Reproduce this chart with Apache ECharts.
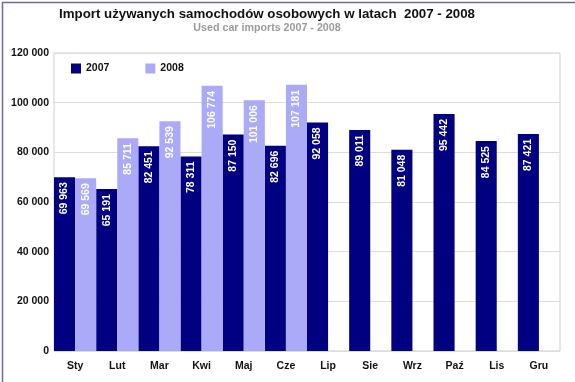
<!DOCTYPE html>
<html><head><meta charset="utf-8">
<script src="https://cdn.jsdelivr.net/npm/echarts@6/dist/echarts.min.js"></script>
<style>
html,body{margin:0;padding:0;background:#fff;}
#c{width:575px;height:382px;box-sizing:border-box;}
</style></head>
<body><div id="c"></div>
<script>
const categories = ['Sty','Lut','Mar','Kwi','Maj','Cze','Lip','Sie','Wrz','Paź','Lis','Gru'];
const values2007 = [69963, 65191, 82451, 78311, 87150, 82696, 92058, 89011, 81048, 95442, 84525, 87421];
const values2008 = [69569, 85711, 92539, 106774, 101006, 107181, null, null, null, null, null, null];
const seriesNames = ['2007', '2008'];
const yTicks = [0, 20000, 40000, 60000, 80000, 100000, 120000];

const fmt = v => String(v).replace(/\B(?=(\d{3})+(?!\d))/g, ' ');
const font = 'Liberation Sans, Arial, sans-serif';
const chart = echarts.init(document.getElementById('c'), null, {renderer: 'canvas'});
const lbl = {
  show: true, position: 'insideTop', rotate: 90, align: 'right', verticalAlign: 'middle',
  distance: 5, color: '#fff', fontWeight: 'bold', fontSize: 10.5, fontFamily: font,
  formatter: p => fmt(p.value)
};
chart.setOption({
  animation: false,
  backgroundColor: '#fff',
  title: [{
    text: 'Import używanych samochodów osobowych w latach  2007 - 2008',
    left: 262, top: 3, textAlign: 'center',
    textStyle: {fontFamily: font, fontWeight: 'bold', fontSize: 13.3, color: '#111'}
  }, {
    text: 'Used car imports 2007 - 2008',
    left: 262, top: 18, textAlign: 'center',
    textStyle: {fontFamily: font, fontWeight: 'bold', fontSize: 10.7, color: '#9a9a9a'}
  }],
  legend: {
    left: 66, top: 58, itemWidth: 10, itemHeight: 10, itemGap: 36,
    data: seriesNames,
    textStyle: {fontFamily: font, fontWeight: 'bold', fontSize: 10.5, color: '#111'},
    icon: 'rect'
  },
  grid: {left: 54, right: 15, top: 53, bottom: 31, show: true, borderColor: '#cfcfcf', borderWidth: 1, backgroundColor: '#fff'},
  xAxis: {
    type: 'category', data: categories,
    axisTick: {show: false}, axisLine: {show: false},
    axisLabel: {fontFamily: font, fontWeight: 'bold', fontSize: 10.5, color: '#111', margin: 10}
  },
  yAxis: {
    type: 'value', min: yTicks[0], max: yTicks[yTicks.length-1], interval: 20000,
    axisLine: {show: false}, axisTick: {show: false},
    splitLine: {lineStyle: {color: '#dcdcdc'}},
    axisLabel: {fontFamily: font, fontWeight: 'bold', fontSize: 10.5, color: '#111', margin: 5, formatter: v => fmt(v)}
  },
  series: [
    {name: seriesNames[0], type: 'bar', data: values2007, barGap: '0%', barCategoryGap: '0%',
     itemStyle: {color: '#000080'}, label: lbl},
    {name: seriesNames[1], type: 'bar', data: values2008, barGap: '0%', barCategoryGap: '0%',
     itemStyle: {color: '#aaaaf8'}, label: lbl}
  ],
  graphic: [{
    type: 'rect', left: 0, top: 0, silent: true,
    shape: {x: 0.75, y: 0.75, width: 573.5, height: 380.5},
    style: {fill: null, stroke: '#6d6aa6', lineWidth: 1.5}
  }]
});
</script></body></html>
